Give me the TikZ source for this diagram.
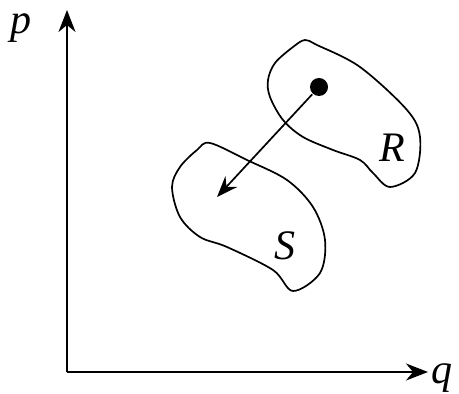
\documentclass[tikz,border=0pt]{standalone}
\usepackage{fontspec}
\setmainfont{Liberation Serif}
\usetikzlibrary{arrows.meta,positioning}

\begin{document}
\begin{tikzpicture}[x=0.5pt,y=-0.5pt,line width=1pt,
  font=\fontsize{21}{24}\selectfont,
  axis/.style={-{Stealth[length=11pt,width=8.5pt,inset=3.5pt]}},
  region/.style={line width=0.85pt,line join=round},
  lbl/.style={inner sep=0pt,font=\fontsize{21}{24}\selectfont\itshape}]
  \useasboundingbox (0,0) rectangle (459,394);
  % axes
  \coordinate (o) at (67,372);
  \coordinate (ptip) at (67,10);
  \coordinate (qtip) at (428,372);
  \draw[axis] (o) -- (ptip);
  \draw[axis] (o) -- (qtip);
  \node[lbl] (p) at (21,28) {p};
  \node[lbl] (q) at (442,378) {q};
  % regions
  \draw[region] plot[smooth cycle,tension=0.55] coordinates {
    (305,40) (317,45) (360,67) (407,110) (420,137) (415,173) (390,187)
    (373,173) (360,160) (333,150) (303,137) (283,120) (270,97) (268,80)
    (275,63) (293,47)};
  \draw[region] plot[smooth cycle,tension=0.55] coordinates {
    (210,143) (247,160) (287,180) (313,207) (325,240) (320,273) (293,291)
    (273,270) (227,247) (200,237) (180,217) (172,187) (180,167) (197,150)};
  \node[lbl] (R) at (392,148) {R};
  \node[lbl] (S) at (285,246) {S};
  % point and its image
  \node[circle,fill=black,inner sep=0pt,minimum size=9pt] (dot) at (319,87) {};
  \coordinate (img) at (217,197);
  \draw[-{Stealth[length=10.5pt,width=8pt,inset=3.5pt]},line width=0.85pt] (dot) -- (img);
\end{tikzpicture}
\end{document}
